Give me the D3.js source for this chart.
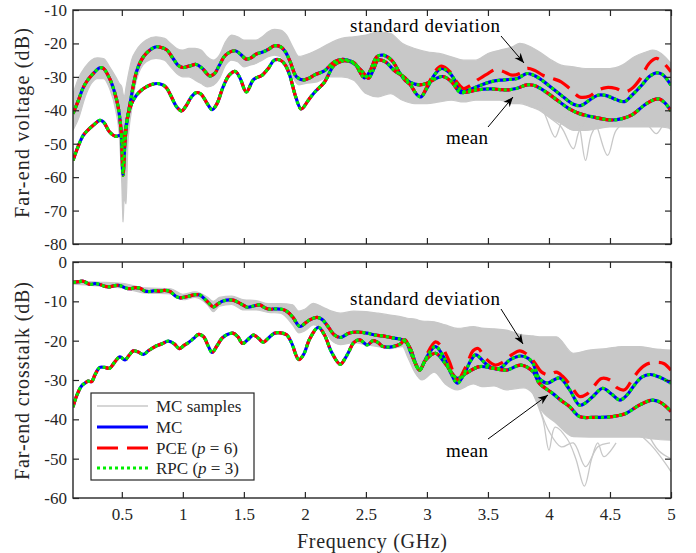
<!DOCTYPE html>
<html><head><meta charset="utf-8">
<script src="https://cdn.jsdelivr.net/npm/d3@7"></script>
<style>body{margin:0;background:#fff} svg{display:block} text{font-family:"Liberation Serif","Times New Roman",serif}</style>
</head><body><svg id="c" width="696" height="553"></svg>
<script>
// ---------- DATA ----------
const xTicks = [0.5, 1, 1.5, 2, 2.5, 3, 3.5, 4, 4.5, 5];
const xTickLabels = ["0.5", "1", "1.5", "2", "2.5", "3", "3.5", "4", "4.5", "5"];
const yTicksTop = [-80, -70, -60, -50, -40, -30, -20, -10];
const yTicksBot = [-60, -50, -40, -30, -20, -10, 0];

// Top panel: far-end voltage, upper statistic curve (MC)
const voltUpperF  = [0.10,0.15,0.18,0.22,0.266,0.32,0.35,0.40,0.44,0.47,0.495,0.51,0.525,0.54,0.57,0.62,0.66,0.70,0.75,0.785,0.83,0.87,0.92,0.96,1.00,1.05,1.11,1.16,1.22,1.26,1.30,1.35,1.43,1.48,1.52,1.56,1.60,1.66,1.70,1.75,1.80,1.84,1.88,1.93,1.99,2.04,2.08,2.16,2.24,2.30,2.35,2.41,2.45,2.49,2.53,2.59,2.64,2.71,2.78,2.82,2.86,2.92,2.95,3.00,3.07,3.12,3.19,3.25,3.29,3.35,3.44,3.52,3.60,3.67,3.74,3.82,3.88,3.95,4.03,4.10,4.20,4.26,4.33,4.40,4.47,4.55,4.62,4.68,4.76,4.82,4.88,4.93,5.00];
const voltUpperDb = [-41,-36.5,-33.5,-31,-29,-27.3,-27.5,-30.5,-34.5,-39,-46.5,-59.5,-50,-44,-37.5,-28.5,-25,-23,-21.5,-21,-21.3,-22,-24.5,-26.5,-27.2,-26.8,-26.3,-27.5,-29.7,-29,-26.5,-23.5,-22.2,-23.5,-24.7,-24.3,-23.2,-22.5,-21.8,-20.7,-21,-22.5,-25.5,-29.9,-30.9,-30.3,-29.4,-28.2,-25.5,-24.8,-25,-26,-28.5,-30.3,-28.5,-24,-23.5,-25,-29,-31,-32.2,-35.4,-36,-33.4,-29,-27.5,-29,-32.4,-34.4,-33.8,-32.5,-31.5,-31,-30.8,-30.5,-29,-29.6,-31.2,-33.5,-35.5,-38.2,-38.6,-37,-35.5,-35.6,-36.8,-37.4,-35.5,-32.5,-30,-28.8,-29.3,-32.5];
// Top panel: lower statistic curve (MC)
const voltLowerF  = [0.10,0.14,0.184,0.22,0.266,0.32,0.35,0.40,0.45,0.49,0.505,0.52,0.55,0.58,0.62,0.66,0.70,0.75,0.80,0.84,0.87,0.90,0.95,0.99,1.03,1.07,1.11,1.15,1.20,1.24,1.28,1.33,1.38,1.43,1.47,1.52,1.58,1.65,1.70,1.75,1.80,1.84,1.88,1.92,1.97,2.03,2.08,2.16,2.24,2.31,2.36,2.40,2.47,2.52,2.56,2.60,2.66,2.73,2.81,2.86,2.94,3.00,3.08,3.13,3.20,3.27,3.32,3.41,3.52,3.60,3.66,3.74,3.82,3.88,3.97,4.05,4.16,4.25,4.35,4.51,4.60,4.68,4.78,4.85,4.90,4.95,5.00];
const voltLowerDb = [-55,-51,-47.5,-46,-44.5,-43,-43.5,-46.5,-47.8,-47.5,-50,-48,-41.5,-38,-35.5,-34,-33,-32.2,-32,-32.5,-33.5,-35.5,-39,-40.2,-38.5,-36,-34.7,-35.2,-38,-39.8,-38,-33,-29.5,-28.4,-30.5,-34.5,-30.8,-29.5,-27.5,-25,-25,-26.5,-30,-35.4,-39.6,-36.9,-34.6,-31.6,-26.5,-25.2,-25.3,-26,-28.4,-30.4,-28,-25,-25.5,-28,-30,-31.6,-32.4,-31.9,-30.4,-29.9,-31.4,-34.6,-34.6,-33.9,-33.6,-33.8,-33.9,-33.4,-32.4,-32.6,-34.4,-36.5,-39.4,-41,-41.9,-42.9,-42.5,-41.4,-38.5,-37,-36.6,-37.8,-40.2];
// Top panel: PCE estimate where it departs from MC (upper curve, f >= 3 GHz)
const voltPceF  = [3.00,3.07,3.12,3.19,3.25,3.30,3.36,3.42,3.50,3.56,3.62,3.70,3.76,3.82,3.88,3.95,4.03,4.10,4.17,4.25,4.33,4.40,4.47,4.55,4.62,4.68,4.75,4.82,4.88,4.93,5.00];
const voltPceDb = [-33,-28.2,-26.8,-28.5,-31.8,-33.5,-32.5,-30.8,-29,-27.8,-28.3,-29.5,-29,-27.5,-28,-29.5,-30.5,-31.5,-33.5,-36,-35.8,-34,-33.2,-33.5,-34.5,-33.5,-30.5,-26,-24.5,-25.5,-28.5];
// Top panel: MC sample envelope
const voltEnvF  = [0.10,0.15,0.20,0.25,0.30,0.35,0.40,0.45,0.48,0.50,0.51,0.52,0.535,0.55,0.58,0.62,0.70,0.78,0.85,0.90,0.95,1.00,1.05,1.10,1.15,1.20,1.25,1.30,1.35,1.40,1.45,1.50,1.55,1.60,1.65,1.70,1.75,1.80,1.85,1.90,1.95,2.00,2.10,2.20,2.30,2.40,2.50,2.60,2.70,2.80,2.90,3.00,3.10,3.20,3.30,3.40,3.50,3.60,3.70,3.76,3.85,3.92,4.00,4.10,4.20,4.30,4.40,4.50,4.60,4.70,4.80,4.85,4.92,5.00];
const voltEnvHi = [-35,-30,-27,-25,-24.3,-24.5,-27,-30,-32,-33,-35,-36,-33,-30,-25,-22,-19,-18,-18.5,-20,-21.5,-22,-21.5,-21.5,-22,-24,-25,-23.5,-19.5,-17.5,-18,-19,-19,-19,-18,-16.5,-15.8,-16,-17.5,-21,-23.9,-23.5,-22,-20,-18.5,-18,-17.5,-16.5,-17,-20,-21.5,-22.5,-23,-24,-25,-25,-23,-22,-21,-20,-21,-22.5,-24.5,-26.5,-27,-27.5,-27.5,-27.5,-26.5,-24,-22.5,-22,-23,-26];
const voltEnvLo = [-46,-42,-36,-32,-30.5,-30.5,-33.5,-40,-48,-62,-73.5,-66,-68,-50,-40,-31,-25.5,-24.5,-25,-27,-29,-30,-30,-31,-32,-33,-32.5,-30.5,-26.5,-25,-25.5,-27,-26.5,-26,-25,-24,-23.5,-24,-26,-30,-32.4,-32,-31.5,-30,-30,-31,-35,-36,-35,-37,-38,-38,-37.5,-37,-37.5,-37,-37,-37,-38,-38,-39,-40,-42,-44,-46,-46,-45.5,-45,-45,-45,-45,-45,-45,-45.5];
// Top panel: individual outlying MC samples
const voltOut1F = [3.85,3.95,4.05,4.10,4.20,4.25,4.30,4.35,4.45,4.50,4.60];
const voltOut1Db = [-36,-40,-48,-44,-40,-45,-55,-47,-42,-44,-43];
const voltOut2F = [3.90,4.00,4.10,4.20,4.25,4.35,4.48,4.55,4.65];
const voltOut2Db = [-38,-42,-45,-51.5,-46,-42,-53.5,-46,-43];
const voltOut3F = [4.70,4.80,4.88,4.95,5.00];
const voltOut3Db = [-42,-44,-47,-44,-46];

// Bottom panel: far-end crosstalk, upper statistic curve (MC)
const xtUpperF  = [0.10,0.15,0.185,0.24,0.28,0.32,0.36,0.40,0.44,0.485,0.53,0.567,0.61,0.65,0.69,0.73,0.77,0.81,0.85,0.895,0.94,0.977,1.02,1.06,1.10,1.14,1.195,1.25,1.29,1.33,1.41,1.45,1.49,1.53,1.58,1.63,1.67,1.71,1.76,1.81,1.855,1.90,1.96,2.00,2.04,2.10,2.14,2.18,2.24,2.29,2.36,2.43,2.51,2.58,2.64,2.72,2.78,2.83,2.87,2.91,2.94,2.97,3.00,3.07,3.15,3.20,3.25,3.32,3.36,3.40,3.48,3.54,3.60,3.68,3.77,3.83,3.87,3.92,3.99,4.04,4.09,4.17,4.25,4.30,4.36,4.44,4.51,4.58,4.64,4.69,4.76,4.83,4.90,5.00];
const xtUpperDb = [-5.2,-5.0,-4.9,-5.7,-5.5,-5.7,-6.2,-6.3,-6.0,-6.0,-6.6,-6.8,-6.5,-6.7,-7.4,-7.5,-7.3,-7.4,-7.2,-7.5,-8.7,-9.1,-8.9,-8.6,-8.3,-8.4,-9.9,-11.4,-10.6,-9.9,-9.7,-10.2,-10.9,-11.5,-11.2,-10.9,-11.6,-12,-11.9,-12,-12.6,-14,-16.4,-15.6,-14.7,-14.1,-14.6,-16,-18.5,-19.2,-18.1,-17.8,-18.1,-18.6,-18.8,-19.3,-19.6,-20.4,-22.4,-26,-27.5,-26,-24.1,-21.5,-24.9,-28.5,-30.8,-27.5,-25,-23.6,-25.8,-27,-27,-24.9,-23.9,-24.5,-25.8,-29.6,-30.8,-30,-29.5,-32.5,-36.4,-35.8,-34.2,-32.1,-33.5,-35.1,-33.8,-31.7,-29.3,-28.6,-29.2,-30.8];
// Bottom panel: lower statistic curve (MC)
const xtLowerF  = [0.10,0.13,0.17,0.198,0.225,0.253,0.28,0.32,0.36,0.40,0.44,0.485,0.525,0.56,0.594,0.63,0.676,0.72,0.785,0.83,0.88,0.93,0.97,1.01,1.05,1.09,1.13,1.17,1.21,1.24,1.28,1.32,1.36,1.41,1.45,1.49,1.53,1.58,1.62,1.66,1.70,1.75,1.80,1.85,1.89,1.95,1.99,2.04,2.11,2.16,2.22,2.29,2.33,2.36,2.40,2.45,2.51,2.56,2.60,2.64,2.72,2.78,2.82,2.87,2.94,2.99,3.07,3.15,3.25,3.32,3.43,3.54,3.65,3.77,3.87,3.92,4.03,4.10,4.17,4.25,4.36,4.52,4.63,4.74,4.85,4.92,5.00];
const xtLowerDb = [-36.9,-34,-31.5,-30.8,-30.3,-30.4,-28.7,-26.8,-26.8,-27,-25.5,-24.1,-24.9,-23.7,-22.6,-22.8,-23.5,-22.5,-21.3,-20.8,-20.1,-20.8,-22,-21.2,-20.4,-19.4,-18.4,-19,-21.5,-23,-21.3,-19.4,-18.5,-18.1,-19,-20.7,-19.8,-18.6,-19.4,-20.4,-19.4,-18.1,-18,-18.5,-20.5,-24.8,-23.5,-19.5,-16.6,-18.5,-23,-26,-24.5,-22.8,-20.5,-19.8,-21.1,-20,-20.5,-21.5,-21.5,-20.9,-19.8,-23.2,-27.5,-24.9,-23.2,-25.8,-29.6,-28.3,-26.6,-27,-27.5,-26.2,-27.9,-30.8,-33.4,-35.2,-36.8,-39.3,-39.5,-39.3,-38.5,-36.4,-35.1,-35.8,-38];
// Bottom panel: PCE estimate where it departs from MC (upper curve, f >= 3 GHz)
const xtPceF  = [3.00,3.07,3.12,3.18,3.25,3.32,3.38,3.42,3.48,3.56,3.62,3.70,3.76,3.82,3.88,3.94,4.00,4.06,4.11,4.18,4.25,4.31,4.37,4.43,4.50,4.56,4.62,4.68,4.74,4.80,4.88,4.94,5.00];
const xtPceDb = [-23.5,-20.3,-21.5,-25,-30,-26.5,-22.5,-22,-24.5,-26.2,-25.5,-23.5,-22.6,-23.5,-25.5,-28,-28.7,-28,-29,-31.5,-34.2,-33.6,-31.5,-29.6,-30,-32,-32.5,-30,-27.5,-26,-25.5,-25.8,-27.5];
// Bottom panel: MC sample envelope
const xtEnvF  = [0.10,0.30,0.50,0.70,0.90,1.00,1.10,1.20,1.25,1.30,1.40,1.50,1.60,1.70,1.80,1.90,1.95,2.00,2.07,2.15,2.22,2.29,2.40,2.50,2.60,2.70,2.80,2.84,2.90,2.96,3.06,3.15,3.25,3.38,3.45,3.55,3.65,3.79,3.87,3.92,4.06,4.20,4.33,4.47,4.60,4.74,4.85,5.00];
const xtEnvHi = [-4.8,-5.1,-5.4,-6.6,-6.8,-8.2,-7.6,-8.9,-10,-9,-8.7,-9.6,-9.8,-10.6,-10.6,-10.9,-12.5,-12,-10.5,-11.5,-12.5,-13,-12.5,-12.6,-13,-13.5,-14,-14.3,-14.5,-15,-15.2,-16,-16.9,-16.4,-16.8,-17,-17.3,-18.6,-18.8,-19,-19,-23.2,-22.4,-22,-21.5,-21.5,-22,-22.4];
const xtEnvLo = [-5.6,-6.1,-6.6,-7.9,-8.1,-9.6,-9,-10.8,-12.6,-11.2,-10.8,-12.2,-12.2,-12.8,-13,-16,-18,-17.5,-16,-17,-20,-21,-20.5,-21,-21.5,-22,-21.5,-24,-28,-30,-28,-31,-32.5,-31,-31.7,-31.5,-32.5,-32,-33.5,-36.8,-41,-44.4,-44.5,-44.5,-44.5,-44.5,-45,-45.3];
// Bottom panel: individual outlying MC samples
const xtOut1F = [3.85,3.95,4.00,4.05,4.15,4.22,4.29,4.35,4.40,4.45,4.55];
const xtOut1Db = [-32,-40,-47.8,-42,-45,-50,-57,-50,-46,-49.5,-46];
const xtOut2F = [3.90,4.00,4.10,4.20,4.30,4.40,4.50];
const xtOut2Db = [-35,-43,-47,-46,-52,-47,-46];
const xtOut3F = [4.75,4.85,4.95,5.00];
const xtOut3Db = [-44,-47,-51,-53.3];
const xtOut4F = [4.80,4.90,5.00];
const xtOut4Db = [-43,-48,-50];

const legendLabels = ["MC samples", "MC", "PCE", "RPC"];

// ---------- DRAWING ----------
const svg = d3.select("#c");
const FONT = "Liberation Serif";
const AX = "#262626";
const GRAY = "#c8c8c8", BLUE = "#0000ff", RED = "#ff0000", GREEN = "#00ee00";

const x = d3.scaleLinear().domain([0.1, 5]).range([73, 671]);
const yTop = d3.scaleLinear().domain([-80, -10]).range([244, 10]);
const yBot = d3.scaleLinear().domain([-60, 0]).range([498, 262]);

const zip = (F, D) => F.map((f, i) => [f, D[i]]);
const withPce = (F, D, PF, PD) => zip(F, D).filter(p => p[0] < PF[0]).concat(zip(PF, PD));

function panel(id, y, yTicks, up, lo, pce, env, outs, showXLabels) {
  const g = svg.append("g");
  const [y0, y1] = y.range();
  g.append("clipPath").attr("id", "clip" + id).append("rect")
    .attr("x", 73).attr("y", y1).attr("width", 598).attr("height", y0 - y1);
  const plot = g.append("g").attr("clip-path", `url(#clip${id})`);
  const line = d3.line().x(d => x(d[0])).y(d => y(d[1])).curve(d3.curveCatmullRom.alpha(0.5));
  const area = d3.area().x(d => x(d[0])).y0(d => y(d[2])).y1(d => y(d[1])).curve(d3.curveMonotoneX);

  const envData = env[0].map((f, i) => [f, env[1][i], env[2][i]]);
  plot.append("path").datum(envData).attr("d", area).attr("fill", GRAY).attr("stroke", GRAY).attr("stroke-width", 1.2);
  outs.forEach(o => plot.append("path").datum(zip(o[0], o[1])).attr("d", line)
    .attr("fill", "none").attr("stroke", GRAY).attr("stroke-width", 1.3));

  const series = [zip(up[0], up[1]), zip(lo[0], lo[1])];
  series.forEach(s => plot.append("path").datum(s).attr("d", line).attr("fill", "none")
    .attr("stroke", BLUE).attr("stroke-width", 3.2));
  const pceSeries = [withPce(up[0], up[1], pce[0], pce[1]), zip(lo[0], lo[1])];
  pceSeries.forEach(s => plot.append("path").datum(s).attr("d", line).attr("fill", "none")
    .attr("stroke", RED).attr("stroke-width", 3.2).attr("stroke-dasharray", "19,9"));
  series.forEach(s => plot.append("path").datum(s).attr("d", line).attr("fill", "none")
    .attr("stroke", GREEN).attr("stroke-width", 3.2).attr("stroke-dasharray", "3,3"));

  const fmt = d => String(d);
  const ax = g.append("g");
  const L = ax.append("g").attr("transform", "translate(73,0)")
    .call(d3.axisLeft(y).tickValues(yTicks).tickFormat(fmt).tickSizeInner(-6).tickSizeOuter(0).tickPadding(6));
  const R = ax.append("g").attr("transform", "translate(671,0)")
    .call(d3.axisRight(y).tickValues(yTicks).tickFormat("").tickSizeInner(-6).tickSizeOuter(0));
  const T = ax.append("g").attr("transform", `translate(0,${y1})`)
    .call(d3.axisTop(x).tickValues(xTicks).tickFormat("").tickSizeInner(-6).tickSizeOuter(0));
  const B = ax.append("g").attr("transform", `translate(0,${y0})`)
    .call(d3.axisBottom(x).tickValues(xTicks).tickFormat((d, i) => showXLabels ? xTickLabels[i] : "")
      .tickSizeInner(-6).tickSizeOuter(0).tickPadding(10));
  [L, R, T, B].forEach(a => {
    a.attr("font-family", null).attr("font-size", null);
    a.select(".domain").remove();
    a.selectAll("line").attr("stroke", AX).attr("stroke-width", 1.2);
    a.selectAll("text").attr("fill", AX).attr("font-size", 17).attr("font-family", FONT);
  });
  g.append("rect").attr("x", 73).attr("y", y1).attr("width", 598).attr("height", y0 - y1)
    .attr("fill", "none").attr("stroke", AX).attr("stroke-width", 1.4);
  return g;
}

panel("t", yTop, yTicksTop, [voltUpperF, voltUpperDb], [voltLowerF, voltLowerDb], [voltPceF, voltPceDb],
  [voltEnvF, voltEnvHi, voltEnvLo], [[voltOut1F, voltOut1Db], [voltOut2F, voltOut2Db], [voltOut3F, voltOut3Db]], false);
panel("b", yBot, yTicksBot, [xtUpperF, xtUpperDb], [xtLowerF, xtLowerDb], [xtPceF, xtPceDb],
  [xtEnvF, xtEnvHi, xtEnvLo], [[xtOut1F, xtOut1Db], [xtOut2F, xtOut2Db], [xtOut3F, xtOut3Db], [xtOut4F, xtOut4Db]], true);

function txt(s, X, Y, opts = {}) {
  const t = svg.append("text").attr("x", X).attr("y", Y).text(s)
    .attr("font-family", FONT).attr("font-size", opts.size || 20).attr("fill", opts.fill || AX)
    .attr("text-anchor", opts.anchor || "middle").attr("dominant-baseline", "central");
  if (opts.len) t.attr("textLength", opts.len).attr("lengthAdjust", "spacing");
  if (opts.rot) t.attr("transform", `rotate(-90,${X},${Y})`);
  return t;
}
txt("Far-end voltage (dB)", 22, 123, {rot: true, len: 190});
txt("Far-end crosstalk (dB)", 22, 381, {rot: true, len: 198});
txt("Frequency (GHz)", 372, 541, {len: 150});

const defs = svg.append("defs");
defs.append("marker").attr("id", "ah").attr("viewBox", "0 0 10 10").attr("refX", 10).attr("refY", 5)
  .attr("markerWidth", 10).attr("markerHeight", 10).attr("markerUnits", "userSpaceOnUse").attr("orient", "auto")
  .append("path").attr("d", "M0,1 L10,5 L0,9 L3,5 Z").attr("fill", "#000");
function arrow(x1, y1, x2, y2) {
  svg.append("line").attr("x1", x1).attr("y1", y1).attr("x2", x2).attr("y2", y2)
    .attr("stroke", "#000").attr("stroke-width", 1).attr("marker-end", "url(#ah)");
}
txt("standard deviation", 425, 25, {fill: "#000", size: 19, len: 150});
arrow(501, 36, 524, 63);
txt("mean", 467, 137, {fill: "#000", size: 19, len: 42});
arrow(488, 127, 513, 97);
txt("standard deviation", 425, 298, {fill: "#000", size: 19, len: 150});
arrow(501, 309, 523, 344);
txt("mean", 467, 450, {fill: "#000", size: 19, len: 42});
arrow(488, 439, 548, 395);

const lg = svg.append("g");
lg.append("rect").attr("x", 91).attr("y", 393).attr("width", 163).attr("height", 87)
  .attr("fill", "#fff").attr("stroke", AX).attr("stroke-width", 1.2);
const rows = [406, 427, 448, 468];
const ls = [{c: GRAY, w: 1.5, d: null}, {c: BLUE, w: 3.2, d: null}, {c: RED, w: 3.2, d: "21,9"}, {c: GREEN, w: 3.2, d: "3,3"}];
rows.forEach((ry, i) => {
  const l = lg.append("line").attr("x1", 97).attr("x2", 148).attr("y1", ry).attr("y2", ry)
    .attr("stroke", ls[i].c).attr("stroke-width", ls[i].w);
  if (ls[i].d) l.attr("stroke-dasharray", ls[i].d);
  const t = lg.append("text").attr("x", 156).attr("y", ry).attr("dominant-baseline", "central")
    .attr("font-family", FONT).attr("font-size", 17).attr("fill", AX);
  t.append("tspan").text(legendLabels[i]);
  if (i === 2) { t.append("tspan").text(" ("); t.append("tspan").attr("font-style", "italic").text("p"); t.append("tspan").text(" = 6)"); }
  if (i === 3) { t.append("tspan").text(" ("); t.append("tspan").attr("font-style", "italic").text("p"); t.append("tspan").text(" = 3)"); }
});
</script></body></html>
